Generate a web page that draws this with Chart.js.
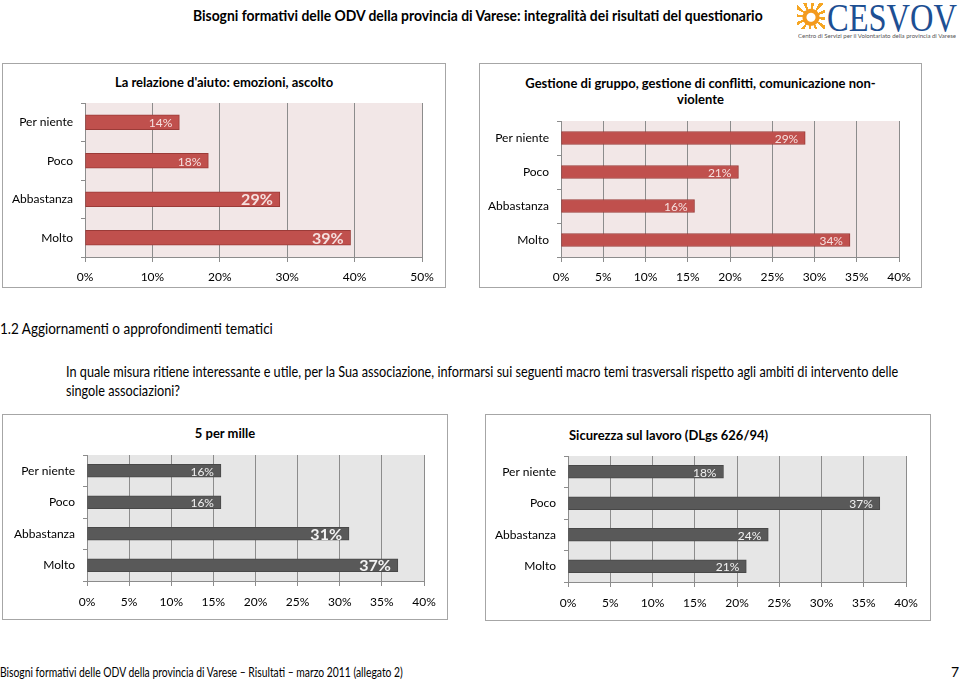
<!DOCTYPE html>
<html>
<head>
<meta charset="utf-8">
<script src="https://cdn.jsdelivr.net/npm/chart.js@4.4.0/dist/chart.umd.min.js"></script>
<style>
  body { margin: 0; width: 960px; height: 679px; position: relative; overflow: hidden; background: #fff; color: #000;
         font-family: Lato, sans-serif; }
  .txt { position: absolute; white-space: nowrap; transform-origin: left top; }
  .box { position: absolute; border: 1px solid #a6a6a6; box-sizing: border-box; background: #fff; }
  .box canvas { position: absolute; left: 0; top: 0; }
  .ctitle { position: absolute; left: 0; right: 0; text-align: center; font-family: Lato, sans-serif; font-weight: bold; font-size: 13px; line-height: 16px; }
  .sun { position: absolute; left: 797px; top: 3px; width: 28px; height: 26px;
         background: radial-gradient(circle at 50% 55%, #fff 0 4px, #f39a1e 5px 8px, transparent 9px),
                     repeating-conic-gradient(from 0deg at 50% 55%, #f6a623 0 12deg, #fff 12deg 30deg); }
</style>
</head>
<body>

<div class="txt" data-w="570" style="left:193px;top:5px;font-size:16px;font-weight:bold;">Bisogni formativi delle ODV della provincia di Varese: integralità dei risultati del questionario</div>
<div class="sun"></div>
<div class="txt" data-w="130" style="left:827px;top:-6px;font-family:'Liberation Serif',serif;font-size:40px;color:#1d4f93;">CESVOV</div>
<div class="txt" data-w="158" style="left:798px;top:32px;font-size:6px;color:#555;">Centro di Servizi per il Volontariato della provincia di Varese</div>

<div class="box" style="left:2px;top:63px;width:444px;height:225px;">
  <div class="ctitle" style="top:10px;">La relazione d'aiuto: emozioni, ascolto</div>
  <canvas id="c1" width="442" height="223"></canvas>
</div>
<div class="box" style="left:479px;top:63px;width:443px;height:225px;">
  <div class="ctitle" style="top:11px;">Gestione di gruppo, gestione di conflitti, comunicazione non-<br>violente</div>
  <canvas id="c2" width="441" height="223"></canvas>
</div>

<div class="txt" data-w="273" style="left:0;top:318px;font-size:16px;">1.2 Aggiornamenti o approfondimenti tematici</div>
<div class="txt" data-w="832" style="left:66px;top:361px;font-size:16px;line-height:19px;">In quale misura ritiene interessante e utile, per la Sua associazione, informarsi sui seguenti macro temi trasversali rispetto agli ambiti di intervento delle<br>singole associazioni?</div>

<div class="box" style="left:2px;top:414px;width:446px;height:206px;">
  <div class="ctitle" style="top:10px;">5 per mille</div>
  <canvas id="c3" width="444" height="204"></canvas>
</div>
<div class="box" style="left:485px;top:414px;width:446px;height:207px;">
  <div class="ctitle" style="top:12px;text-align:left;left:83px;">Sicurezza sul lavoro (DLgs 626/94)</div>
  <canvas id="c4" width="444" height="205"></canvas>
</div>

<div class="txt" data-w="403" style="left:0;top:663px;font-size:14px;">Bisogni formativi delle ODV della provincia di Varese – Risultati – marzo 2011 (allegato 2)</div>
<div class="txt" style="left:951px;top:663px;font-size:14px;">7</div>

<script>
const categories = ["Per niente", "Poco", "Abbastanza", "Molto"];

const relazioneValues = [14, 18.3, 28.9, 39.4];
const gestioneValues = [28.9, 21, 15.8, 34.2];
const perMilleValues = [15.9, 15.9, 31.1, 36.9];
const sicurezzaValues = [18.4, 36.9, 23.7, 21.1];

const relazioneTicks = [0, 10, 20, 30, 40, 50];
const fortyTicks = [0, 5, 10, 15, 20, 25, 30, 35, 40];

// the page text was set in a narrow font, squeeze Lato to the same widths
document.querySelectorAll('.txt[data-w]').forEach(el => {
  el.style.transform = 'scaleX(' + (el.dataset.w / el.offsetWidth) + ')';
});

const plotBg = {
  id: 'plotBg',
  beforeDraw(chart, args, opts) {
    const a = chart.chartArea;
    chart.ctx.save();
    chart.ctx.fillStyle = opts.color;
    chart.ctx.fillRect(a.left, a.top, a.right - a.left, a.bottom - a.top);
    chart.ctx.restore();
  }
};

const barLabels = {
  id: 'barLabels',
  afterDatasetsDraw(chart, args, opts) {
    const ctx = chart.ctx;
    const meta = chart.getDatasetMeta(0);
    const data = chart.data.datasets[0].data;
    ctx.save();
    ctx.textAlign = 'right';
    ctx.textBaseline = 'middle';
    ctx.fillStyle = opts.color;
    meta.data.forEach((bar, i) => {
      const big = opts.big[i];
      ctx.font = big ? 'bold 16px Lato' : '12px Lato';
      ctx.fillText(Math.round(data[i]) + '%', bar.x - 7, bar.y + 1);
    });
    ctx.restore();
  }
};

function makeChart(id, values, ticks, o) {
  const max = ticks[ticks.length - 1];
  return new Chart(document.getElementById(id), {
    type: 'bar',
    data: {
      labels: categories,
      datasets: [{
        data: values,
        backgroundColor: o.bar,
        borderColor: o.barBorder,
        borderWidth: 1,
        borderSkipped: false,
        barThickness: o.thick
      }]
    },
    options: {
      indexAxis: 'y',
      responsive: false,
      animation: false,
      layout: { padding: { top: o.top, right: o.right, bottom: 0, left: 0 } },
      plugins: {
        legend: { display: false },
        tooltip: { enabled: false },
        plotBg: { color: o.bg },
        barLabels: { color: o.labelColor, big: o.big }
      },
      scales: {
        x: {
          min: 0,
          max: max,
          afterBuildTicks: s => { s.ticks = ticks.map(v => ({ value: v })); },
          afterFit: s => { s.height = o.bottom; },
          grid: { color: '#8c8c8c', tickLength: 5 },
          border: { color: '#8c8c8c' },
          ticks: { color: '#000', padding: o.tickPad, font: { family: 'Lato', size: 12 }, callback: v => v + '%' }
        },
        y: {
          afterFit: s => { s.width = o.left; },
          grid: { offset: true, drawOnChartArea: false, color: '#8c8c8c', tickLength: 4 },
          border: { color: '#8c8c8c' },
          ticks: { color: '#000', padding: 8, font: { family: 'Lato', size: 12 } }
        }
      }
    },
    plugins: [plotBg, barLabels]
  });
}

const red = { bar: '#c0504d', barBorder: '#9b3b38', bg: '#f2e7e7', labelColor: '#f5e0df' };
const grey = { bar: '#595959', barBorder: '#484848', bg: '#e6e6e6', labelColor: '#f2f2f2' };

makeChart('c1', relazioneValues, relazioneTicks,
  Object.assign({}, red, { top: 39, right: 23, bottom: 30, left: 82, thick: 15, tickPad: 8, big: [false, false, true, true] }));
makeChart('c2', gestioneValues, fortyTicks,
  Object.assign({}, red, { top: 57, right: 22, bottom: 30, left: 81, thick: 13, tickPad: 8, big: [false, false, false, false] }));
makeChart('c3', perMilleValues, fortyTicks,
  Object.assign({}, grey, { top: 40, right: 23, bottom: 38, left: 84, thick: 13, tickPad: 9, big: [false, false, true, true] }));
makeChart('c4', sicurezzaValues, fortyTicks,
  Object.assign({}, grey, { top: 41, right: 24, bottom: 38, left: 82, thick: 13, tickPad: 9, big: [false, false, false, false] }));
</script>
</body>
</html>
